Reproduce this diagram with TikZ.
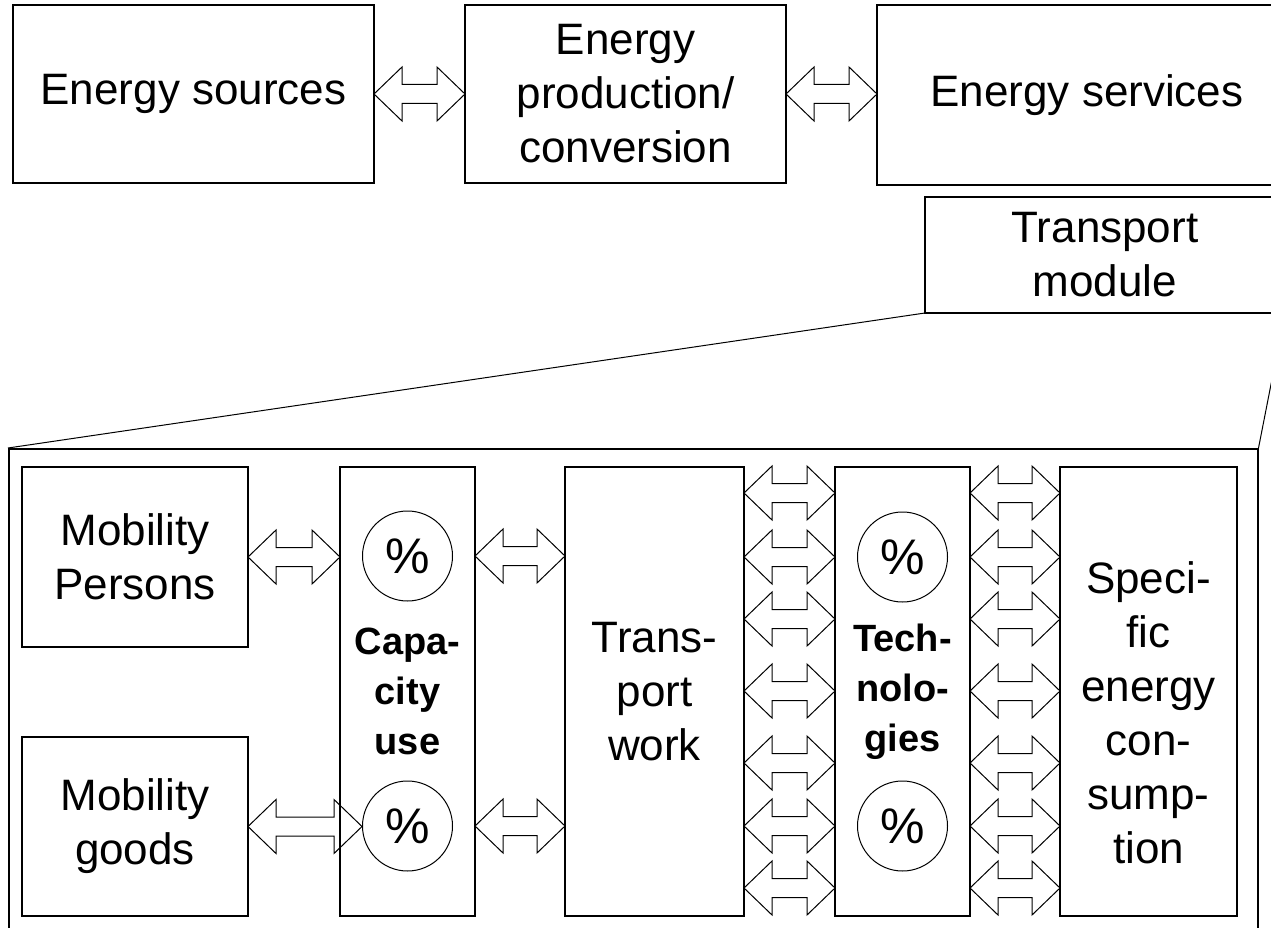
\documentclass[tikz,border=0pt]{standalone}
\usepackage{fontspec}
\setmainfont{Liberation Sans}
\usepackage{tikz}
\usetikzlibrary{shapes}
\usetikzlibrary{calc}

\newcommand\biarrow[2]{\draw[fleche] let \p1=(#1), \p2=(#2) in
(\x1,\y1) -- (\x1+28pt,\y1+27pt) -- (\x1+28pt,\y1+9.5pt) -- (\x2-28pt,\y1+9.5pt) -- (\x2-28pt,\y1+27pt)
-- (\x2,\y1) -- (\x2-28pt,\y1-27pt) -- (\x2-28pt,\y1-9.5pt) -- (\x1+28pt,\y1-9.5pt) -- (\x1+28pt,\y1-27pt) -- cycle;}

\begin{document}
\begin{tikzpicture}[x=1pt,y=-1pt]
\tikzstyle{fleche}=[line width=1pt,line join=miter]
\tikzset{bloc/.style={draw,line width=1.5pt,anchor=north west,inner sep=0pt,outer sep=0pt,align=center,font=\fontsize{#1}{54}\selectfont},
bloc/.default={44}}
\tikzset{pct/.style={draw,circle,line width=1pt,minimum size=90pt,inner sep=0pt,font=\fontsize{50}{50}\selectfont}}
\tikzstyle{gras}=[font=\fontsize{38}{50}\selectfont\bfseries]
\clip (0,0) rectangle (1271,928);
\fill[white] (0,0) rectangle (1271,928);
\node [bloc,minimum width=361pt,minimum height=178pt] (src) at (13,5) {Energy sources};
\node [bloc,minimum width=321pt,minimum height=178pt] (prod) at (465,5) {Energy\\production/\\conversion};
\node [bloc,minimum width=420pt,minimum height=180pt] (serv) at (877,5) {Energy services};
\node [bloc,minimum width=360pt,minimum height=116pt] (tm) at (925,197) {Transport\\module};
\node [draw,line width=1.5pt,anchor=north west,minimum width=1249pt,minimum height=520pt] (big) at (8,448) {};
\draw [line width=1pt] (tm.south west) -- (big.north west);
\draw [line width=1pt] (tm.south east) -- (big.north east);
\biarrow{src.east}{prod.west}
\biarrow{prod.east}{serv.west}
\node [bloc,minimum width=226pt,minimum height=180pt] (pers) at (22,467) {Mobility\\Persons};
\node [bloc,minimum width=226pt,minimum height=179pt] (goods) at (22,737) {Mobility\\goods};
\node [bloc,gras,minimum width=135pt,minimum height=449pt] (cap) at (340,467) {Capa-\\city\\use};
\node [bloc,minimum width=179pt,minimum height=449pt] (tw) at (565,467) {Trans-\\port\\work};
\node [bloc,gras,minimum width=135pt,minimum height=449pt] (tech) at (835,467) {Tech-\\nolo-\\gies};
\node [bloc,minimum width=177pt,minimum height=449pt] (spec) at (1060,467) {};
\node [align=center,inner sep=0pt,font=\fontsize{44}{54}\selectfont] (spect) at ([yshift=-21pt]spec.center) {Speci-\\fic\\energy\\con-\\sump-\\tion};
\node [pct] (capa) at (407.5,556) {\%};
\node [pct] (capb) at (407.5,826) {\%};
\node [pct] (techa) at (902.5,557) {\%};
\node [pct] (techb) at (902.5,826) {\%};
\biarrow{pers.east}{cap.west |- pers.east}
\biarrow{goods.east}{capb.west}
\biarrow{cap.east |- capa}{tw.west |- capa}
\biarrow{cap.east |- capb}{tw.west |- capb}
\foreach \i/\yy in {1/493,2/557,3/619,4/691,5/763,6/826,7/888} {
\coordinate (r\i) at (0,\yy);
\biarrow{tw.east |- r\i}{tech.west |- r\i}
\biarrow{tech.east |- r\i}{spec.west |- r\i}
}
\end{tikzpicture}
\end{document}
